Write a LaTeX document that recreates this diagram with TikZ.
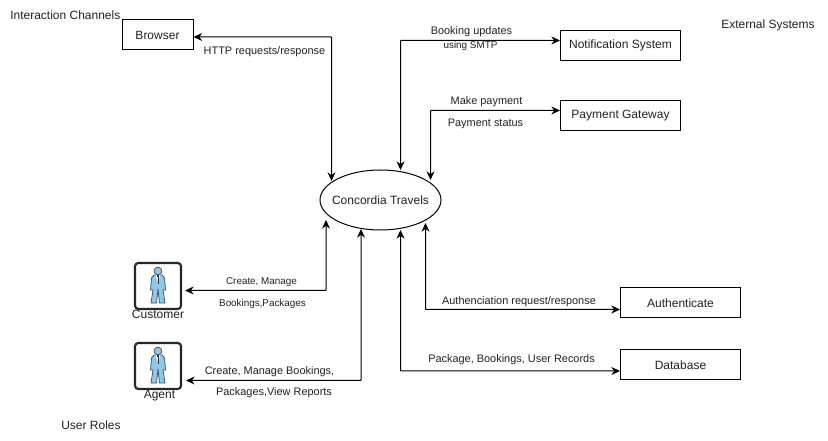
\documentclass[tikz,border=0pt]{standalone}
\usepackage{fontspec}
\setmainfont{Liberation Sans}
\usetikzlibrary{arrows.meta,shapes.geometric}
\definecolor{txt}{HTML}{222222}
\definecolor{suit}{HTML}{8CC8F0}
\tikzset{
  x=0.75pt,y=-0.75pt,
  sysbox/.style={draw=black,line width=0.75pt,minimum width=90pt,minimum height=22.5pt,inner sep=0pt,font=\fontsize{9}{11}\selectfont,text=txt},
  lbl/.style={inner sep=0pt,font=\fontsize{8.2}{10}\selectfont,text=txt},
  lblsm/.style={inner sep=0pt,font=\fontsize{7.4}{9}\selectfont,text=txt},
  plain/.style={inner sep=0pt,font=\fontsize{9}{11}\selectfont,text=txt},
  conn/.style={draw=black,line width=0.75pt,rounded corners=0.5pt,{Stealth[length=6.5pt,width=6pt]}-{Stealth[length=6.5pt,width=6pt]}},
  iconbox/.style={draw=black!85,line width=1.6pt,rounded corners=2.5pt,fill=white},
  suitbody/.style={draw=black!70,line width=0.55pt,fill=suit,line join=round}
}
\newcommand{\person}[2]{%
  \begin{scope}[shift={(#1,#2)}]
    \path[iconbox] (-23,-23) rectangle (23,23);
    \path[suitbody] (-4,-11) -- (4,-11) -- (6.5,-8) -- (7.5,4) -- (5,4) -- (7,17) -- (1.5,17) -- (0,3) -- (-1.5,17) -- (-7,17) -- (-5,4) -- (-7.5,4) -- (-6.5,-8) -- cycle;
    \fill[white] (-2.5,-11) -- (2.5,-11) -- (0,-4) -- cycle;
    \fill[black!80] (-1.2,-10.5) rectangle (1.2,-8.5);
    \draw[black!80,line width=0.5pt] (0,-8.5) -- (0,-2);
    \path[suitbody] (0,-15) circle (3.9);
  \end{scope}}
\begin{document}
\begin{tikzpicture}
\useasboundingbox (0,0) rectangle (828,441);
\fill[white] (0,0) rectangle (828,441);
\node[plain,anchor=west] (tchan) at (10,15) {Interaction Channels};
\node[plain,anchor=west] (text) at (721,25) {External Systems};
\node[plain,anchor=west] (trole) at (61,425) {User Roles};

\node[sysbox,minimum width=53.25pt] (browser) at (157.5,35) {Browser};
\node[sysbox] (notify) at (620.5,45.5) {Notification System};
\node[sysbox] (pay) at (620.5,115.5) {Payment Gateway};
\node[sysbox] (auth) at (680.5,303) {Authenticate};
\node[sysbox] (db) at (680.5,365) {Database};
\node[draw=black,line width=0.75pt,ellipse,minimum width=90.75pt,minimum height=45pt,inner sep=0pt,font=\fontsize{9}{11}\selectfont,text=txt] (core) at (380.5,200) {\makebox[0pt]{Concordia Travels}};

\person{158}{286}
\person{158}{366}
\node[plain,anchor=base] (cust) at (158,319) {Customer};
\node[plain,anchor=base] (agent) at (159.5,399) {Agent};

\coordinate (bE) at (331.5,181);
\coordinate (nS) at (400.5,170);
\coordinate (pS) at (430.5,180);
\coordinate (cS) at (326,220);
\coordinate (cE) at (185,290.5);
\coordinate (aS) at (361,229);
\coordinate (aE) at (186,380.5);
\coordinate (uS) at (425.5,223);
\coordinate (dS) at (400.5,230);

\draw[conn] (browser.east |- 0,37) -| (bE);
\draw[conn] (nS) |- (notify.west |- 0,40.5);
\draw[conn] (pS) |- (pay.west |- 0,110.5);
\draw[conn] (cS) |- (cE);
\draw[conn] (aS) |- (aE);
\draw[conn] (uS) |- (auth.west |- 0,309.5);
\draw[conn] (dS) |- (db.west |- 0,371);

\node[lbl] (l1) at (264.5,52) {HTTP requests/response};
\node[lbl] (l2) at (471.5,31.5) {Booking updates};
\node[lblsm] (l3) at (470.5,46) {using SMTP};
\node[lbl] (l4) at (486.5,101.5) {Make payment};
\node[lbl] (l5) at (485.5,123.5) {Payment status};
\node[lblsm] (l6) at (261.5,282) {Create, Manage};
\node[lblsm] (l7) at (262.5,304) {Bookings,Packages};
\node[lbl] (l8) at (269.5,372) {Create, Manage Bookings,};
\node[lbl] (l9) at (274,393) {Packages,View Reports};
\node[lbl] (l10) at (519,301.5) {Authenciation request/response};
\node[lbl] (l11) at (511.5,360) {Package, Bookings, User Records};
\end{tikzpicture}
\end{document}
